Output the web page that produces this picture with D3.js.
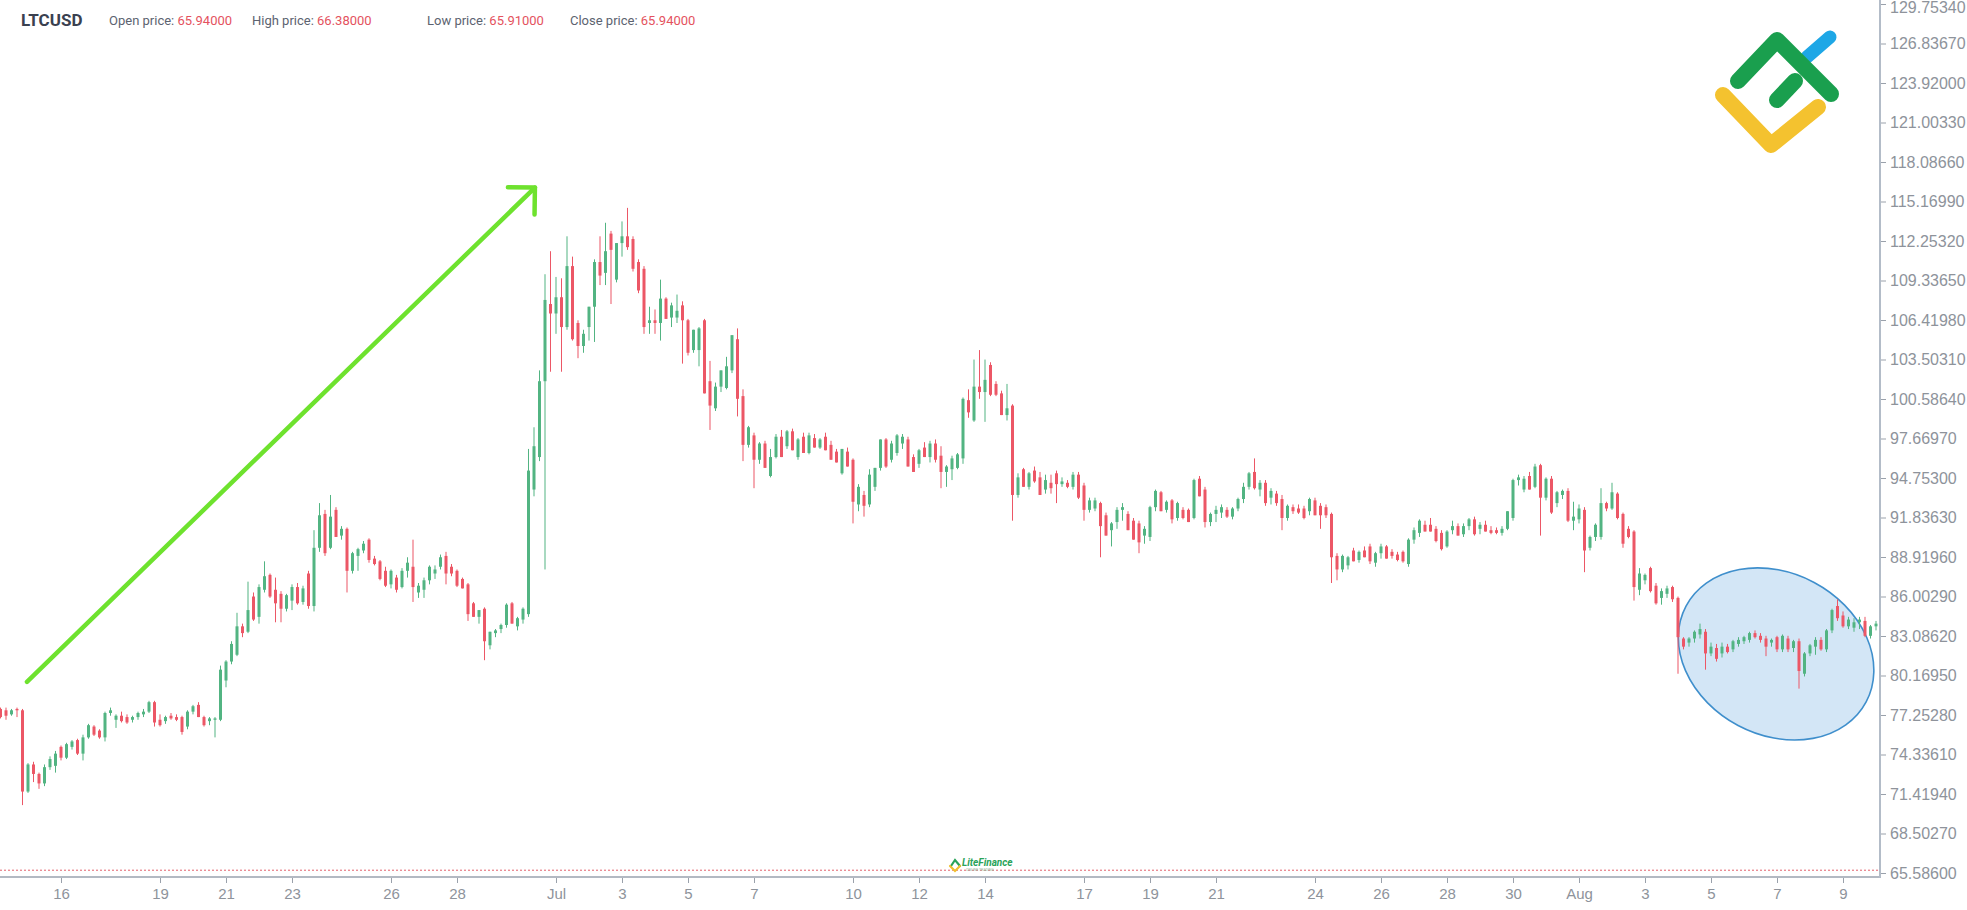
<!DOCTYPE html>
<html><head><meta charset="utf-8">
<script src="https://cdn.jsdelivr.net/npm/d3@7"></script>
<style>html,body{margin:0;padding:0;background:#fff;overflow:hidden}</style>
</head><body><svg id="chart" width="1967" height="910"></svg>
<script>
// ---------- data ----------
const symbol = "LTCUSD";
const headerLabels = ["Open price:", "High price:", "Low price:", "Close price:"];
const headerValues = ["65.94000", "66.38000", "65.91000", "65.94000"];
const firstCandle = "2023-06-14T04:00:00Z";
const candleHours = 4;
// [open, high, low, close], 4-hour candles
const candles = [
[77.7,77.8,77.0,77.1],[77.6,77.8,76.9,77.2],[77.3,77.7,77.2,77.6],[77.7,77.8,77.1,77.6],[77.6,77.7,70.6,71.6],[71.6,73.7,71.5,73.6],
[73.6,73.8,72.3,72.9],[72.9,73.0,71.8,72.2],[72.2,73.6,72.0,73.4],[73.4,74.2,73.2,74.0],[73.5,74.6,73.0,74.4],[74.9,75.0,73.9,74.1],
[74.1,75.2,74.0,75.1],[74.9,75.4,74.7,75.3],[75.4,75.5,74.3,74.4],[74.4,75.8,73.9,75.6],[75.6,76.6,75.5,76.5],[76.4,76.5,75.7,75.8],
[76.1,76.2,75.5,75.6],[75.6,77.5,75.3,77.4],[77.4,77.8,77.2,77.6],[76.9,77.3,76.3,77.2],[77.2,77.5,76.7,76.8],[77.1,77.3,76.6,76.7],
[76.9,77.2,76.7,77.1],[77.1,77.5,76.9,77.4],[77.3,77.7,77.1,77.5],[77.5,78.3,77.4,78.2],[78.2,78.3,76.4,76.7],[76.9,77.3,76.4,76.5],
[76.8,77.2,76.6,77.1],[77.2,77.4,76.9,77.0],[77.1,77.3,76.8,76.9],[77.1,77.2,75.8,76.0],[76.4,77.6,76.2,77.5],[77.5,78.0,77.3,77.9],
[78.0,78.2,77.1,77.1],[77.1,77.2,76.4,76.5],[76.8,77.1,76.5,77.0],[76.9,77.1,75.6,77.0],[76.9,80.9,76.8,80.6],[79.8,81.3,79.3,81.2],
[81.2,82.7,81.0,82.5],[81.7,84.8,81.6,83.8],[83.8,84.0,83.0,83.3],[83.4,87.1,83.3,85.0],[86.0,86.3,84.2,84.3],[84.5,86.9,84.0,86.7],
[86.5,88.6,86.3,87.5],[87.6,87.7,85.9,86.0],[86.5,87.4,84.1,85.5],[86.2,86.4,84.1,85.1],[85.1,86.2,84.9,86.1],[85.7,86.9,85.0,86.7],
[86.7,87.0,85.4,85.5],[85.6,86.8,85.4,86.6],[87.7,87.9,85.1,85.3],[85.3,90.9,84.9,89.6],[89.6,92.9,89.3,92.0],[92.1,92.4,89.0,89.2],
[89.6,93.5,89.5,91.9],[92.4,92.6,90.4,90.4],[90.5,91.2,90.2,91.0],[91.0,91.1,86.3,87.9],[87.9,89.3,87.7,89.2],[89.0,89.6,87.9,89.5],
[89.4,90.1,89.2,89.9],[90.2,90.3,88.5,88.7],[88.8,89.0,88.3,88.4],[88.6,88.7,87.2,87.3],[87.9,88.2,86.7,86.8],[86.9,88.0,86.6,87.9],
[87.4,87.6,86.3,86.5],[86.7,88.1,86.6,87.9],[87.9,88.9,87.4,88.5],[88.2,90.2,85.6,86.7],[86.3,87.0,85.9,86.8],[86.5,87.4,85.9,87.2],
[87.2,88.3,86.9,88.2],[87.7,88.3,87.3,88.0],[88.2,89.1,88.0,88.9],[89.0,89.3,86.9,87.7],[88.2,88.4,87.5,87.7],[87.9,88.0,86.7,86.8],
[87.3,87.4,86.6,86.6],[86.9,87.0,84.2,84.7],[85.5,85.6,84.5,84.5],[84.5,85.0,84.0,85.0],[85.1,85.2,81.3,82.7],[82.4,83.4,82.1,83.4],
[83.3,83.6,83.0,83.5],[83.6,84.0,83.3,83.9],[83.9,85.5,83.7,85.4],[85.5,85.6,84.0,84.0],[83.8,84.5,83.5,84.4],[84.3,85.2,84.0,85.1],
[84.7,96.9,84.5,95.3],[93.9,98.5,93.4,97.1],[96.3,102.7,96.0,101.9],[101.9,109.8,88.0,107.9],[107.6,111.5,102.6,106.9],[106.9,109.6,105.4,108.1],
[108.1,109.5,102.6,105.9],[105.9,112.6,105.7,110.4],[110.4,111.1,104.9,105.0],[106.2,106.4,103.6,104.5],[104.5,105.7,104.0,105.4],[105.9,107.4,104.9,107.4],
[107.4,110.9,104.8,110.7],[110.7,112.6,109.0,109.7],[109.9,113.6,109.0,111.5],[112.8,113.0,107.6,111.6],[109.4,112.1,109.2,112.1],[112.1,113.7,111.1,112.6],
[112.6,114.7,111.6,111.8],[112.4,112.6,110.0,110.2],[110.7,110.9,108.4,108.6],[110.2,110.4,105.4,105.9],[106.2,107.4,105.4,106.4],[106.4,107.2,105.4,106.2],
[106.2,109.4,104.9,108.0],[108.0,108.1,106.5,106.5],[106.6,107.7,105.9,107.5],[106.6,108.3,106.2,107.1],[107.5,107.8,103.2,106.4],[106.4,106.5,103.8,104.0],
[104.2,105.7,104.0,105.7],[104.2,105.9,103.0,105.8],[106.4,106.5,101.0,101.0],[101.9,103.4,98.3,100.1],[99.9,101.8,99.7,101.5],[101.5,102.7,101.1,102.7],
[101.4,103.7,101.3,103.0],[102.7,105.3,102.5,105.3],[105.0,105.8,99.3,100.6],[100.8,101.3,96.0,97.2],[97.2,98.6,97.0,98.5],[97.9,98.1,94.0,96.1],
[96.1,97.4,95.8,97.3],[97.3,97.5,95.5,95.5],[94.9,96.9,94.8,96.3],[96.3,98.0,96.2,97.8],[97.8,98.3,96.3,96.3],[97.1,98.3,96.9,98.2],
[98.2,98.4,96.8,96.8],[96.3,97.7,96.1,97.6],[97.8,98.1,96.6,96.6],[96.6,98.1,96.5,97.9],[97.7,98.0,97.0,97.0],[97.0,97.7,96.9,97.6],
[97.8,98.1,96.8,96.8],[97.2,97.5,96.1,96.1],[96.7,96.9,95.9,95.9],[95.1,96.9,95.0,96.9],[96.7,97.0,95.6,95.6],[96.1,96.2,91.4,93.0],
[92.8,94.3,92.3,94.1],[93.5,93.8,91.9,92.7],[92.8,95.4,92.6,95.0],[94.1,95.5,93.8,95.5],[95.5,97.6,95.3,97.6],[97.6,97.7,95.5,95.6],
[96.1,97.5,95.9,97.3],[96.6,98.0,96.4,97.9],[97.3,98.0,96.9,97.8],[97.6,97.8,95.6,95.6],[96.3,96.5,95.2,95.2],[95.8,96.9,95.5,96.8],
[97.0,97.4,96.3,96.3],[96.3,97.5,95.9,97.3],[97.3,97.6,95.9,96.1],[96.4,97.1,94.0,95.2],[95.2,95.7,94.1,95.6],[95.4,96.4,94.6,96.2],
[95.5,96.6,95.4,96.5],[96.2,100.7,95.8,100.6],[100.5,101.3,99.2,99.6],[99.0,103.5,98.9,101.5],[101.5,104.2,100.6,101.1],[101.1,103.5,98.9,102.0],
[103.1,103.3,100.8,100.9],[101.7,101.9,100.8,100.9],[101.0,101.2,99.4,99.4],[99.4,101.7,99.0,99.9],[100.1,100.2,91.6,93.5],[93.5,95.1,93.3,94.8],
[95.4,95.5,94.1,94.1],[94.1,95.2,93.9,95.1],[95.3,95.6,94.4,94.5],[94.8,95.2,93.5,93.5],[93.9,95.0,93.6,94.6],[94.4,95.0,93.6,94.0],
[95.1,95.3,92.9,94.3],[94.3,94.8,94.1,94.5],[94.4,94.6,94.0,94.1],[94.1,95.2,93.9,95.0],[95.0,95.2,93.2,93.3],[94.2,94.4,91.6,92.4],
[92.4,93.3,92.2,93.1],[92.5,93.3,92.3,93.1],[92.9,93.0,88.9,91.2],[92.0,92.2,90.5,90.5],[90.9,91.5,89.7,91.4],[91.5,92.6,91.0,92.4],
[92.4,92.9,91.6,92.6],[92.1,92.3,90.9,90.9],[91.6,91.8,90.2,90.2],[91.4,91.6,89.2,90.0],[90.5,91.2,89.9,91.0],[90.4,92.7,90.1,92.6],
[92.6,93.9,92.3,93.8],[93.7,93.8,92.3,92.3],[92.4,93.1,92.2,93.0],[93.1,93.2,91.4,91.7],[91.8,93.0,91.6,92.9],[92.4,92.6,91.7,91.8],
[92.4,92.5,91.5,91.5],[91.8,94.7,91.7,94.6],[94.7,94.9,93.4,93.4],[93.9,94.1,91.1,91.5],[91.5,92.2,91.2,92.1],[92.1,92.7,91.5,92.4],
[92.2,92.8,91.8,92.6],[92.4,92.6,91.8,91.9],[91.9,92.6,91.7,92.5],[92.5,93.3,92.3,93.2],[93.2,94.4,92.9,94.1],[94.1,95.2,93.9,95.1],
[95.2,96.2,93.9,94.0],[93.9,94.6,93.4,94.4],[94.4,94.6,92.7,92.9],[93.3,94.0,92.8,93.8],[93.6,93.8,92.7,92.9],[93.2,93.5,90.9,91.8],
[91.8,92.8,91.6,92.7],[92.6,92.8,92.1,92.3],[92.5,92.8,92.1,92.2],[92.5,92.7,91.7,91.8],[92.3,93.3,92.0,93.2],[93.1,93.3,92.0,92.0],
[92.7,92.9,91.0,92.0],[92.6,92.8,91.8,92.0],[92.1,92.2,87.0,88.9],[89.0,89.2,87.2,88.0],[88.0,89.1,87.8,89.0],[88.3,89.0,88.0,88.9],
[89.4,89.6,88.6,88.6],[88.7,89.4,88.5,89.3],[89.4,89.7,88.9,88.9],[89.7,89.9,88.4,88.6],[88.5,89.3,88.2,89.2],[89.2,89.9,88.8,89.7],
[89.7,89.8,88.8,88.8],[89.3,89.5,88.8,89.0],[89.1,89.3,88.6,88.7],[89.3,89.4,88.5,88.6],[88.4,90.3,88.2,90.2],[90.2,91.1,89.9,90.9],
[90.7,91.7,90.4,91.6],[91.3,91.6,90.8,90.8],[91.3,91.8,90.8,90.8],[91.0,91.2,90.0,90.1],[90.7,90.9,89.4,89.5],[89.7,90.9,89.6,90.8],
[90.9,91.6,90.6,91.2],[91.2,91.4,90.5,90.5],[90.6,91.4,90.4,91.2],[91.2,91.8,90.9,91.7],[91.7,91.9,90.5,90.6],[91.0,91.5,90.6,91.3],
[91.3,91.6,90.8,90.8],[90.9,91.2,90.6,90.7],[90.9,91.1,90.6,90.7],[90.7,91.2,90.5,91.0],[91.0,92.3,90.9,92.3],[91.8,94.7,91.6,94.6],
[94.6,95.0,94.2,94.8],[93.9,94.9,93.7,94.7],[94.9,95.2,93.9,93.9],[94.1,95.8,94.0,95.6],[95.7,95.8,90.5,93.3],[93.3,94.8,93.1,94.7],
[94.7,94.9,92.1,92.2],[92.9,93.8,92.6,93.7],[93.5,93.9,93.2,93.8],[93.8,94.0,91.5,91.6],[91.6,93.0,90.9,91.9],[91.7,92.8,91.4,92.5],
[92.4,92.6,87.8,89.4],[89.6,90.5,89.4,90.4],[90.4,91.4,90.1,91.3],[90.4,94.0,90.2,92.9],[92.9,93.0,92.3,92.5],[92.5,94.4,92.4,93.7],
[93.6,93.7,91.7,91.8],[92.1,92.2,89.6,89.9],[91.0,91.2,90.3,90.4],[90.8,90.9,85.7,86.7],[86.5,88.1,86.1,87.7],[87.2,87.7,86.9,87.6],
[88.1,88.2,86.3,86.4],[86.8,87.0,85.4,85.5],[85.9,86.6,85.4,86.4],[86.2,86.8,85.9,86.6],[86.7,86.8,85.6,85.8],[85.9,86.0,80.3,83.0],
[82.9,83.0,82.1,82.3],[82.6,83.0,82.3,82.9],[82.9,83.5,82.6,83.4],[83.2,84.0,82.9,83.6],[83.4,83.6,80.6,81.8],[81.8,82.6,81.6,82.3],
[82.2,82.5,81.2,81.4],[81.8,82.6,81.5,82.3],[82.3,82.5,81.8,81.9],[82.1,82.8,81.9,82.7],[82.5,83.0,82.3,82.8],[82.7,83.1,82.5,83.0],
[82.8,83.4,82.6,83.3],[83.3,83.5,82.9,83.0],[83.1,83.3,82.6,82.8],[82.9,83.1,81.6,82.3],[82.6,82.9,82.3,82.8],[83.0,83.1,81.9,82.1],
[82.1,83.2,81.9,83.1],[82.9,83.1,81.9,82.1],[82.2,82.8,81.9,82.7],[82.7,82.9,79.2,80.5],[80.3,81.9,80.1,81.8],[81.8,82.5,81.6,82.4],
[82.3,83.0,81.7,82.8],[82.8,83.0,82.0,82.1],[82.1,83.6,81.9,83.5],[83.5,85.1,83.3,85.0],[85.3,85.8,84.2,84.4],[84.6,84.9,83.7,83.8],
[83.8,84.5,83.6,84.3],[83.7,84.4,83.4,84.1],[84.1,84.5,83.6,84.3],[84.2,84.5,83.0,83.1],[83.1,83.9,82.9,83.8],[83.8,84.2,83.5,84.0]
];
const yTicks = [65.586,68.5027,71.4194,74.3361,77.2528,80.1695,83.0862,86.0029,88.9196,91.8363,94.753,97.6697,100.5864,103.5031,106.4198,109.3365,112.2532,115.1699,118.0866,121.0033,123.92,126.8367,129.7534];
const xTickDates = ["2023-06-16","2023-06-19","2023-06-21","2023-06-23","2023-06-26","2023-06-28","2023-07-01","2023-07-03","2023-07-05","2023-07-07","2023-07-10","2023-07-12","2023-07-14","2023-07-17","2023-07-19","2023-07-21","2023-07-24","2023-07-26","2023-07-28","2023-07-30","2023-08-01","2023-08-03","2023-08-05","2023-08-07","2023-08-09"];
const xTickLabels = ["16","19","21","23","26","28","Jul","3","5","7","10","12","14","17","19","21","24","26","28","30","Aug","3","5","7","9"];
const lastPrice = 65.94;
const arrowFrom = {date: "2023-06-14T23:15:00Z", price: 79.7};
const arrowTo = {date: "2023-06-30T08:40:00Z", price: 116.2};
const ellipseCenter = {date: "2023-08-06T23:20:00Z", price: 81.76};

// ---------- drawing ----------
const svg = d3.select("#chart");
const axisX = 1880, axisY = 877;
const upColor = "#52b482", downColor = "#ec5766";

const x = d3.scaleUtc()
  .domain([new Date(xTickDates[0] + "T00:00:00Z"), new Date(xTickDates[xTickDates.length - 1] + "T00:00:00Z")])
  .range([61, 1843]);
const y = d3.scaleLinear().domain([yTicks[0], yTicks[yTicks.length - 1]]).range([873, 4]);

const t0 = new Date(firstCandle).getTime();
const data = candles.map((c, i) => ({
  t: new Date(t0 + i * candleHours * 3600 * 1000),
  o: c[0], h: c[1], l: c[2], c: c[3]
}));

// ellipse highlight (behind candles)
const ex = x(new Date(ellipseCenter.date)), ey = y(ellipseCenter.price);
svg.append("ellipse")
  .attr("transform", `translate(${ex},${ey}) rotate(28)`)
  .attr("rx", 102).attr("ry", 81)
  .attr("fill", "#d3e6f6")
  .attr("stroke", "#3f8fcc").attr("stroke-width", 1.6);

// candles
const g = svg.append("g");
const bw = 3;
g.selectAll("rect.wick").data(data).join("rect")
  .attr("class", "wick")
  .attr("x", d => x(d.t) - 0.5)
  .attr("width", 1)
  .attr("y", d => y(d.h))
  .attr("height", d => Math.max(1, y(d.l) - y(d.h)))
  .attr("fill", d => d.c >= d.o ? upColor : downColor);
g.selectAll("rect.body").data(data).join("rect")
  .attr("class", "body")
  .attr("x", d => x(d.t) - bw / 2)
  .attr("width", bw)
  .attr("y", d => y(Math.max(d.o, d.c)))
  .attr("height", d => Math.max(1, Math.abs(y(d.o) - y(d.c))))
  .attr("fill", d => d.c >= d.o ? upColor : downColor);

// last price dotted line
svg.append("line")
  .attr("x1", 0).attr("x2", axisX)
  .attr("y1", y(lastPrice) + 2).attr("y2", y(lastPrice) + 2)
  .attr("stroke", "#e2606a").attr("stroke-width", 1).attr("stroke-dasharray", "2,2");

// bottom axis
const xAxis = d3.axisBottom(x)
  .tickValues(xTickDates.map(s => new Date(s + "T00:00:00Z")))
  .tickFormat((d, i) => xTickLabels[i])
  .tickSize(6).tickPadding(5);
const gx = svg.append("g").attr("transform", `translate(0,${axisY})`).call(xAxis);
gx.select(".domain").remove();
gx.selectAll(".tick line").attr("stroke", "#9aa1ab");
gx.selectAll(".tick text").attr("fill", "#8e939b")
  .style("font-family", "'Liberation Sans', Arial, sans-serif").style("font-size", "15px");
svg.append("line").attr("x1", 0).attr("x2", axisX + 1).attr("y1", axisY).attr("y2", axisY)
  .attr("stroke", "#b3b9c2").attr("stroke-width", 2);

// right axis
const yAxis = d3.axisRight(y).tickValues(yTicks).tickFormat(d => d.toFixed(5)).tickSize(5).tickPadding(4);
const gy = svg.append("g").attr("transform", `translate(${axisX + 1},0)`).call(yAxis);
gy.select(".domain").remove();
gy.selectAll(".tick line").attr("stroke", "#9aa1ab");
gy.selectAll(".tick text").attr("fill", "#8e939b")
  .style("font-family", "'Liberation Sans', Arial, sans-serif").style("font-size", "16px");
// keep the topmost label inside the page
gy.selectAll(".tick text").filter(d => d === yTicks[yTicks.length - 1]).attr("dy", "0.78em").attr("y", -4);
svg.append("line").attr("x1", axisX).attr("x2", axisX).attr("y1", 0).attr("y2", axisY + 1)
  .attr("stroke", "#b3bcc8").attr("stroke-width", 2);

// green trend arrow
const ax0 = x(new Date(arrowFrom.date)), ay0 = y(arrowFrom.price);
const ax1 = x(new Date(arrowTo.date)), ay1 = y(arrowTo.price);
const ang = Math.atan2(ay1 - ay0, ax1 - ax0) + Math.PI;
const hl = 27;
const arrowG = svg.append("g").attr("stroke", "#6ee22e").attr("stroke-width", 4.5)
  .attr("fill", "none").attr("stroke-linecap", "round").attr("stroke-linejoin", "round");
arrowG.append("line").attr("x1", ax0).attr("y1", ay0).attr("x2", ax1).attr("y2", ay1);
arrowG.append("path").attr("d", d3.line()([
  [ax1 + hl * Math.cos(ang + Math.PI / 4), ay1 + hl * Math.sin(ang + Math.PI / 4)],
  [ax1, ay1],
  [ax1 + hl * Math.cos(ang - Math.PI / 4), ay1 + hl * Math.sin(ang - Math.PI / 4)]
]));

// header
const font = "'Roboto', 'Liberation Sans', Arial, sans-serif";
svg.append("text").attr("x", 21).attr("y", 26).text(symbol)
  .attr("fill", "#3a4150").style("font-family", font).style("font-weight", "bold").style("font-size", "17px");
const hx = [109, 252, 427, 570];
headerLabels.forEach((lab, i) => {
  const t = svg.append("text").attr("x", hx[i]).attr("y", 25)
    .style("font-family", font).style("font-size", "13px");
  t.append("tspan").attr("fill", "#5c6370").text(lab + " ");
  t.append("tspan").attr("fill", "#e4525e").text(headerValues[i]);
});

// logo (top right)
const logo = svg.append("g").attr("fill", "none").attr("stroke-linecap", "round").attr("stroke-linejoin", "round");
logo.append("path").attr("d", "M1807,57 L1830,37").attr("stroke", "#1ea7e6").attr("stroke-width", 13);
logo.append("path").attr("d", "M1738,81 L1777,40 L1831,94").attr("stroke", "#1a9f4e").attr("stroke-width", 16);
logo.append("path").attr("d", "M1777,100 L1795,81").attr("stroke", "#1a9f4e").attr("stroke-width", 16);
logo.append("path").attr("d", "M1723,95 L1771,145 L1818,107").attr("stroke", "#f4c22f").attr("stroke-width", 16);

// small watermark
const wm = svg.append("g");
wm.append("path").attr("d", "M951,866 L955,860 L960,866").attr("stroke", "#2aa35a").attr("stroke-width", 2.2).attr("fill", "none").attr("stroke-linecap", "round");
wm.append("path").attr("d", "M950,866 L955,871 L960,866").attr("stroke", "#f0c030").attr("stroke-width", 2.2).attr("fill", "none").attr("stroke-linecap", "round");
wm.append("text").attr("x", 962).attr("y", 866).text("LiteFinance")
  .attr("fill", "#2aa35a").style("font-family", font).style("font-style", "italic").style("font-weight", "bold").style("font-size", "10px");
wm.append("text").attr("x", 966).attr("y", 871).text("ONLINE TRADING")
  .attr("fill", "#8fb89c").style("font-family", font).style("font-size", "3.5px");
</script>
</body></html>
